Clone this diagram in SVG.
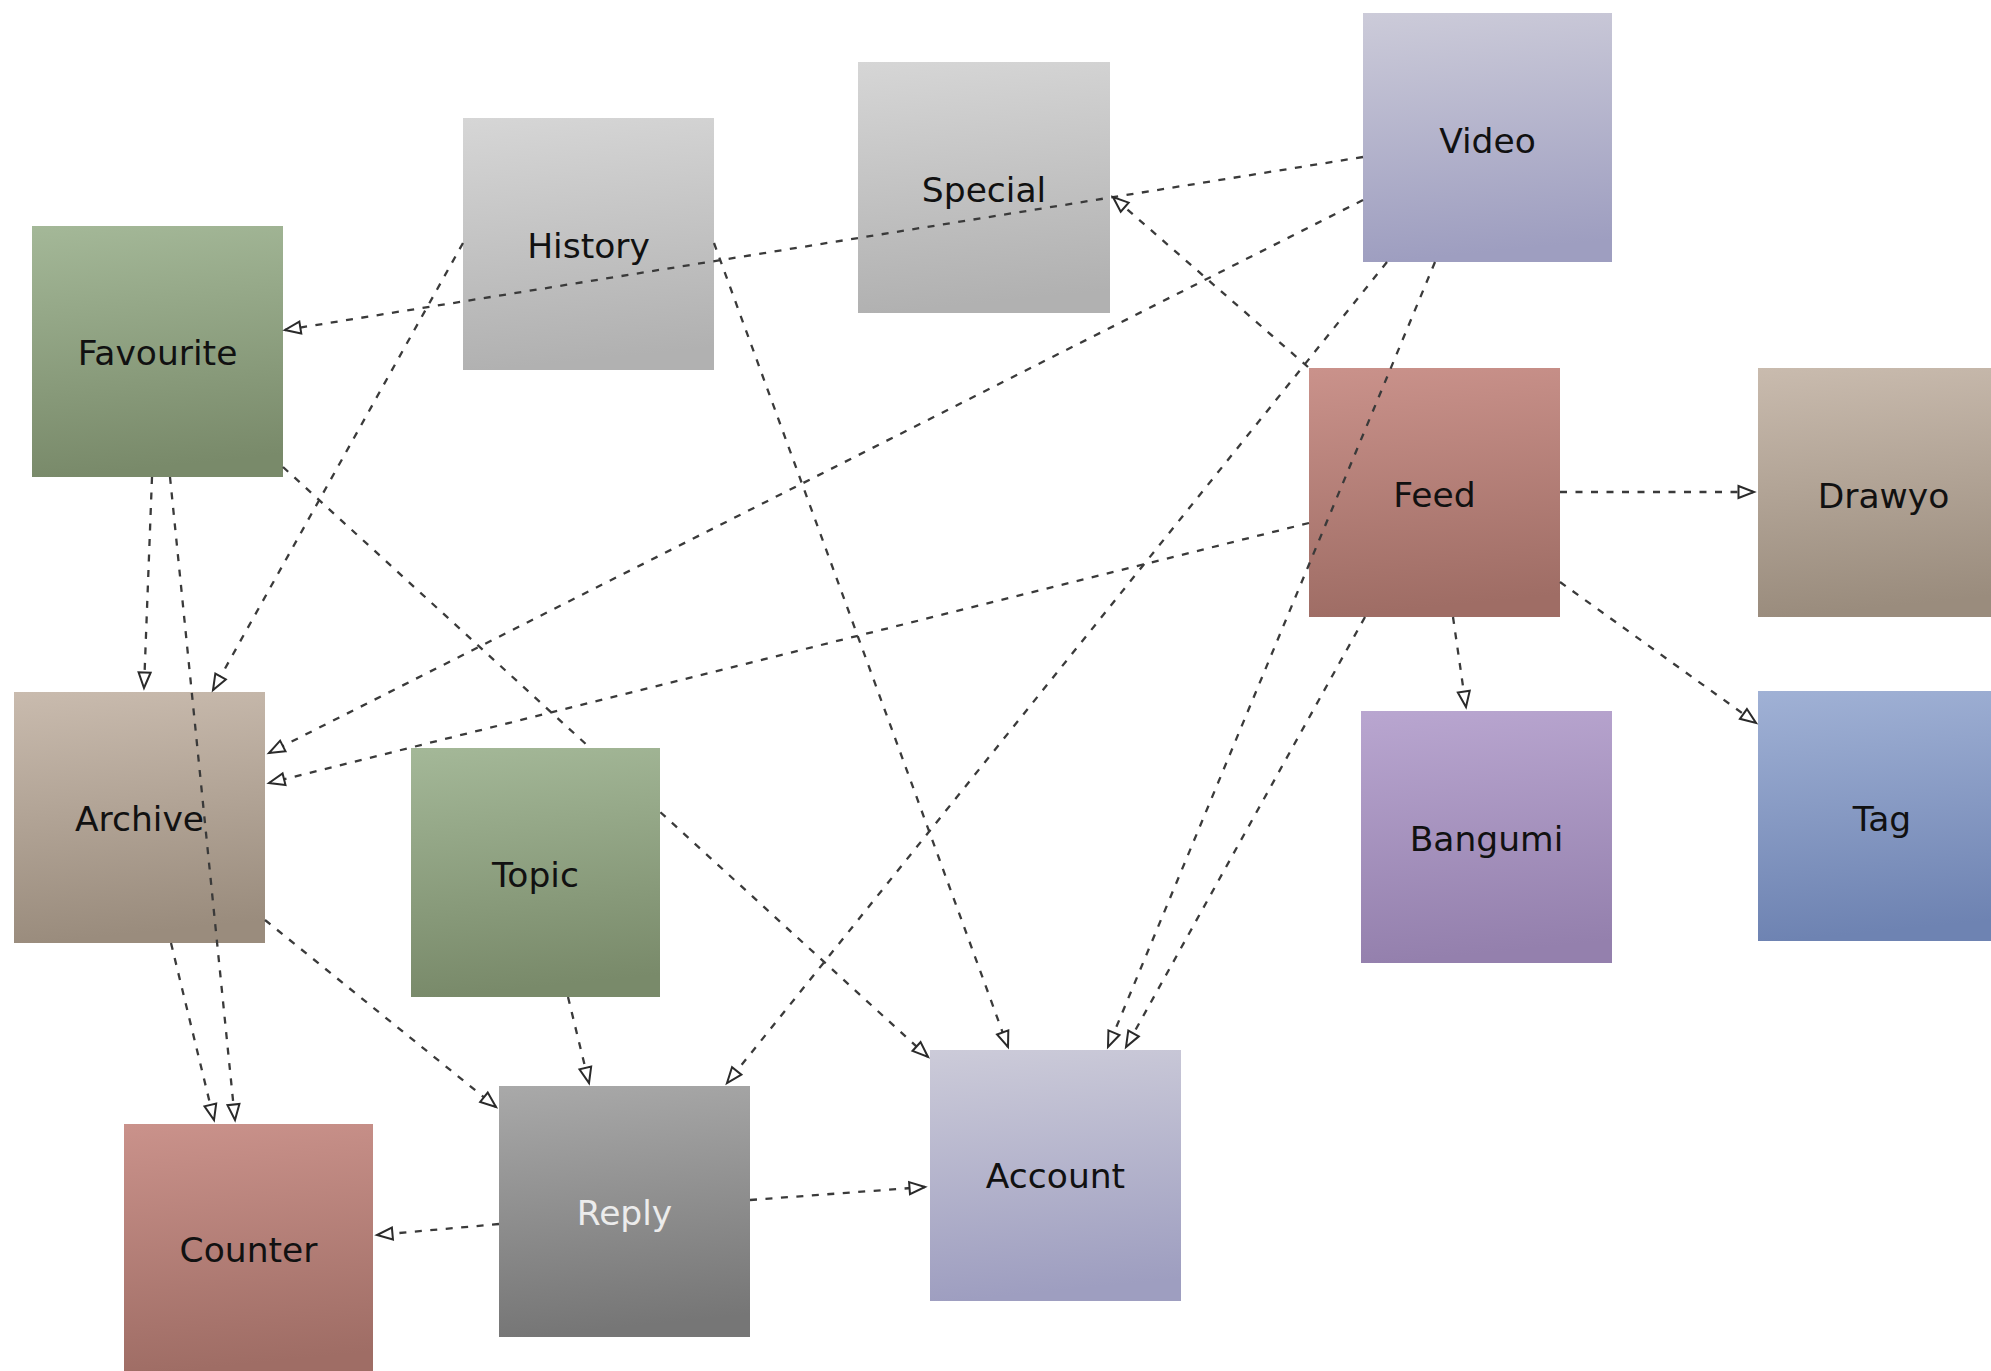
<svg xmlns="http://www.w3.org/2000/svg" width="1991" height="1371" viewBox="0 0 1991 1371">
<style>
.lbl{font-family:"DejaVu Sans","Verdana",sans-serif;font-size:34.5px;fill:#111111;text-anchor:middle}
.lt{fill:#ececec}
.edge{fill:none;stroke:#3a3a3a;stroke-width:2.3;stroke-dasharray:7 8.5;marker-end:url(#arr)}
</style>
<defs>
<linearGradient id="gGreen" x1="0" y1="0" x2="0.1" y2="1"><stop offset="0" stop-color="#a4b898"/><stop offset="1" stop-color="#798a6a"/></linearGradient>
<linearGradient id="gGray" x1="0" y1="0" x2="0.1" y2="1"><stop offset="0" stop-color="#d6d6d6"/><stop offset="1" stop-color="#b1b1b1"/></linearGradient>
<linearGradient id="gLav" x1="0" y1="0" x2="0.1" y2="1"><stop offset="0" stop-color="#cccbd9"/><stop offset="1" stop-color="#9e9ec0"/></linearGradient>
<linearGradient id="gRed" x1="0" y1="0" x2="0.1" y2="1"><stop offset="0" stop-color="#ca928b"/><stop offset="1" stop-color="#9f6d65"/></linearGradient>
<linearGradient id="gTan" x1="0" y1="0" x2="0.1" y2="1"><stop offset="0" stop-color="#c9bbae"/><stop offset="1" stop-color="#9a8c7d"/></linearGradient>
<linearGradient id="gPurple" x1="0" y1="0" x2="0.1" y2="1"><stop offset="0" stop-color="#b9a6d0"/><stop offset="1" stop-color="#9480ad"/></linearGradient>
<linearGradient id="gBlue" x1="0" y1="0" x2="0.1" y2="1"><stop offset="0" stop-color="#a0b1d5"/><stop offset="1" stop-color="#6e83b2"/></linearGradient>
<linearGradient id="gDark" x1="0" y1="0" x2="0.1" y2="1"><stop offset="0" stop-color="#a9a9a9"/><stop offset="1" stop-color="#767676"/></linearGradient>
<marker id="arr" markerUnits="userSpaceOnUse" markerWidth="20" markerHeight="16" refX="17" refY="7.5" orient="auto" overflow="visible">
<path d="M1.5,1.5 L17,7.5 L1.5,13.5 Z" fill="#ffffff" stroke="#2a2a2a" stroke-width="2" stroke-dasharray="none" stroke-linejoin="miter"/>
</marker>
</defs>
<rect width="1991" height="1371" fill="#ffffff"/>

<g id="node-favourite"><rect x="32" y="226" width="251" height="251" fill="url(#gGreen)"/><text class="lbl" x="157.5" y="365">Favourite</text></g>
<g id="node-history"><rect x="463" y="118" width="251" height="252" fill="url(#gGray)"/><text class="lbl" x="588.5" y="258">History</text></g>
<g id="node-special"><rect x="858" y="62" width="252" height="251" fill="url(#gGray)"/><text class="lbl" x="984" y="202">Special</text></g>
<g id="node-video"><rect x="1363" y="13" width="249" height="249" fill="url(#gLav)"/><text class="lbl" x="1487.5" y="153">Video</text></g>
<g id="node-feed"><rect x="1309" y="368" width="251" height="249" fill="url(#gRed)"/><text class="lbl" x="1434.5" y="507">Feed</text></g>
<g id="node-drawyo"><rect x="1758" y="368" width="251" height="249" fill="url(#gTan)"/><text class="lbl" x="1883.5" y="508">Drawyo</text></g>
<g id="node-tag"><rect x="1758" y="691" width="251" height="250" fill="url(#gBlue)"/><text class="lbl" x="1882" y="831">Tag</text></g>
<g id="node-bangumi"><rect x="1361" y="711" width="251" height="252" fill="url(#gPurple)"/><text class="lbl" x="1486.5" y="851">Bangumi</text></g>
<g id="node-archive"><rect x="14" y="692" width="251" height="251" fill="url(#gTan)"/><text class="lbl" x="139.5" y="831">Archive</text></g>
<g id="node-reply"><rect x="499" y="1086" width="251" height="251" fill="url(#gDark)"/><text class="lbl lt" x="624.5" y="1225">Reply</text></g>
<g id="node-account"><rect x="930" y="1050" width="251" height="251" fill="url(#gLav)"/><text class="lbl" x="1055.5" y="1188">Account</text></g>
<g id="node-counter"><rect x="124" y="1124" width="249" height="250" fill="url(#gRed)"/><text class="lbl" x="248.5" y="1262">Counter</text></g>

<g id="connectors">
<line class="edge" x1="1363" y1="157" x2="285" y2="330"/>
<line class="edge" x1="1363" y1="200" x2="269" y2="753"/>
<line class="edge" x1="1387" y1="262" x2="727" y2="1083"/>
<line class="edge" x1="1435" y1="262" x2="1108" y2="1047"/>
<line class="edge" x1="1308" y1="367" x2="1113" y2="197"/>
<line class="edge" x1="1309" y1="523" x2="269" y2="783"/>
<line class="edge" x1="1365" y1="617" x2="1126" y2="1047"/>
<line class="edge" x1="1560" y1="492" x2="1754" y2="492"/>
<line class="edge" x1="1453" y1="617" x2="1466" y2="707"/>
<line class="edge" x1="1560" y1="582" x2="1756" y2="723"/>
<line class="edge" x1="463" y1="243" x2="213" y2="690"/>
<line class="edge" x1="714" y1="243" x2="1008" y2="1047"/>
<line class="edge" x1="152" y1="477" x2="144" y2="688"/>
<line class="edge" x1="170" y1="477" x2="235" y2="1120"/>
<line class="edge" x1="283" y1="467" x2="928" y2="1057"/>
<line class="edge" x1="171" y1="943" x2="214" y2="1120"/>
<line class="edge" x1="265" y1="920" x2="496" y2="1107"/>
<line class="edge" x1="568" y1="997" x2="589" y2="1083"/>
<line class="edge" x1="499" y1="1224" x2="377" y2="1235"/>
<line class="edge" x1="750" y1="1200" x2="925" y2="1187"/>
</g>

<g id="node-topic"><rect x="411" y="748" width="249" height="249" fill="url(#gGreen)"/><text class="lbl" x="535.5" y="887">Topic</text></g>
</svg>
